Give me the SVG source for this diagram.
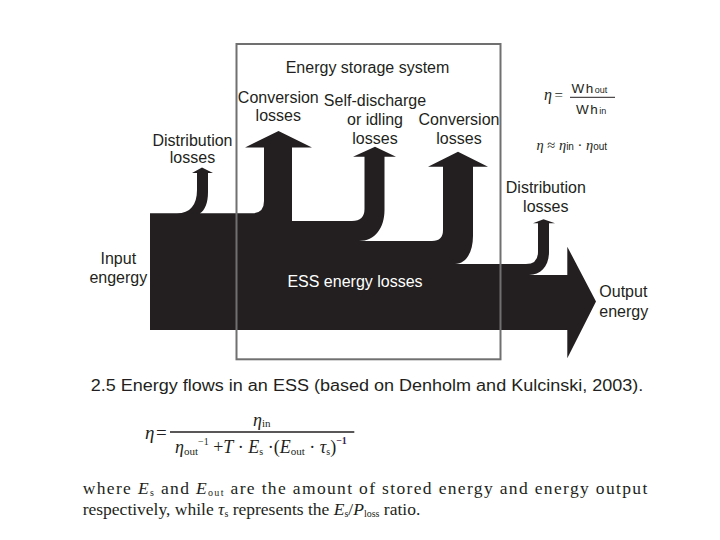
<svg xmlns="http://www.w3.org/2000/svg" width="720" height="540" viewBox="0 0 720 540">
<style>
.s{font-family:"Liberation Sans",Arial,sans-serif;font-size:16px;fill:#231f20;text-anchor:middle}
.l{text-anchor:start}
.f{font-family:"Liberation Sans",Arial,sans-serif;fill:#231f20}
.m{font-family:"Liberation Serif","Times New Roman",serif;fill:#231f20}
.i{font-style:italic}
</style>
<rect width="720" height="540" fill="#fff"/>
<g id="flow">
<path fill="#231f20" d="M150,213.3 L177,213.3 C190,213.3 197,205 197,190 L197,173 L192,173 L202,167.5 L213,173 L208,173 L208,192 C208,203 205,210 200,213.3 L252,213.3 Q264,213.3 264,201 L264,147.5 L245,147.5 L278.5,131 L312,147.5 L292,147.5 L292,221 L352,221 Q364.5,221 364.5,209 L364.5,156.7 L353,156.7 L375,146.7 L396,156.7 L384.5,156.7 L384.5,210 C384.5,228 375,241 359,241 L432,241 Q443,241 443,230 L443,166.7 L428,166.7 L458,151.7 L488,166.7 L473,166.7 L473,236 C473,252 466,264 455,264 L526,264 Q538,264 538,252 L538,223.3 L533,223.3 L543.5,219.3 L555,223.3 L549,223.3 L549,252 C549,266 541,275 529,275 L567.3,275 L567.3,246.7 L596,301.5 L567.3,358.3 L567.3,330 L150,330 Z"/>
</g>
<g id="ess-box">
<rect x="236.5" y="44" width="264" height="315.3" fill="none" stroke="#707070" stroke-width="2"/>
<text class="s" x="367.5" y="73">Energy storage system</text>
<text class="s" x="355" y="286.7" style="fill:#fff">ESS energy losses</text>
</g>
<g id="labels">
<text class="s" x="192.5" y="146">Distribution</text>
<text class="s" x="192.5" y="163.3">losses</text>
<text class="s" x="278.3" y="103.3">Conversion</text>
<text class="s" x="278.3" y="121">losses</text>
<text class="s" x="375" y="105.7">Self-discharge</text>
<text class="s" x="375" y="125">or idling</text>
<text class="s" x="375" y="144">losses</text>
<text class="s" x="459" y="125">Conversion</text>
<text class="s" x="459" y="144">losses</text>
<text class="s" x="545.8" y="192.7">Distribution</text>
<text class="s" x="545.8" y="211.7">losses</text>
<text class="s" x="118.3" y="264">Input</text>
<text class="s" x="118.3" y="283">engergy</text>
<text class="s l" x="599.3" y="296.7">Output</text>
<text class="s l" x="599.3" y="317">energy</text>
</g>
<g id="formulas-top">
<text class="m i" x="544" y="100" font-size="16">η</text>
<text class="m" x="554.5" y="100" font-size="15">=</text>
<line x1="570" y1="97.3" x2="615" y2="97.3" stroke="#231f20" stroke-width="1"/>
<text class="f" x="571.5" y="93.3" font-size="13.5" letter-spacing="1.5">Wh<tspan font-size="9" letter-spacing="0">out</tspan></text>
<text class="f" x="576" y="113.8" font-size="13.5" letter-spacing="1.5">Wh<tspan font-size="9" letter-spacing="0">in</tspan></text>
<text class="m" x="536.5" y="150" font-size="14.5"><tspan class="i">η</tspan> ≈ <tspan class="i">η</tspan><tspan class="f" font-size="10">in</tspan> · <tspan class="i">η</tspan><tspan class="f" font-size="10">out</tspan></text>
</g>
<g id="caption">
<text class="s l" x="90.7" y="391" textLength="552.6" lengthAdjust="spacingAndGlyphs">2.5 Energy flows in an ESS (based on Denholm and Kulcinski, 2003).</text>
</g>
<g id="equation">
<text class="m i" x="145" y="439" font-size="19">η</text>
<text class="m" x="156" y="439" font-size="19">=</text>
<line x1="170" y1="432" x2="354.3" y2="432" stroke="#231f20" stroke-width="1.3"/>
<text class="m" x="253" y="426" font-size="18"><tspan class="i">η</tspan><tspan font-size="11" dy="1">in</tspan></text>
<text class="m" x="175" y="452.5" font-size="18"><tspan class="i">η</tspan><tspan font-size="11" dy="2">out</tspan><tspan font-size="10" dy="-10">−1</tspan><tspan dy="8"> +</tspan><tspan class="i">T</tspan> · <tspan class="i">E</tspan><tspan font-size="10" dy="2">s</tspan><tspan dy="-2"> ·(</tspan><tspan class="i">E</tspan><tspan font-size="11" dy="2">out</tspan><tspan dy="-2"> · </tspan><tspan class="i">τ</tspan><tspan font-size="10" dy="2">s</tspan><tspan dy="-2">)</tspan><tspan font-size="10" dy="-9" fill="#3b1f4f" font-weight="bold">−1</tspan></text>
<text class="m" x="82.7" y="494" font-size="17.5" textLength="564.6" lengthAdjust="spacing">where <tspan class="i">E</tspan><tspan font-size="10" dy="2">s</tspan><tspan dy="-2"> and </tspan><tspan class="i">E</tspan><tspan font-size="10" dy="2">out</tspan><tspan dy="-2"> are the amount of stored energy and energy output</tspan></text>
<text class="m" x="82.7" y="515" font-size="17.5">respectively, while <tspan class="i">τ</tspan><tspan font-size="10" dy="2">s</tspan><tspan dy="-2"> represents the </tspan><tspan class="i">E</tspan><tspan font-size="10" dy="2">s</tspan><tspan dy="-2">/</tspan><tspan class="i">P</tspan><tspan font-size="10" dy="2">loss</tspan><tspan dy="-2"> ratio.</tspan></text>
</g>
</svg>
